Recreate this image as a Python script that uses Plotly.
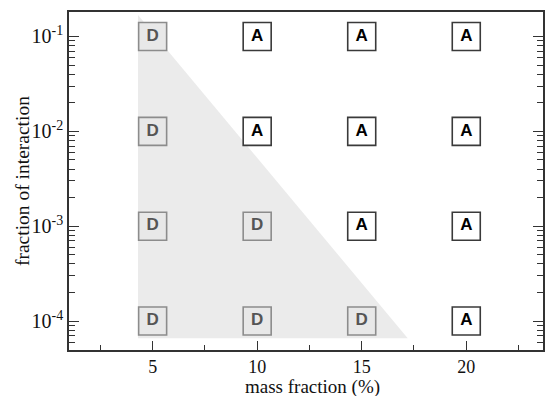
import plotly.graph_objects as go

# Grid of simulated cases: mass fraction (%) vs fraction of interaction
mass_fraction = [5, 10, 15, 20]
interaction = [1e-1, 1e-2, 1e-3, 1e-4]
# Outcome per row (interaction) and column (mass fraction)
regime = [
    ["D", "A", "A", "A"],
    ["D", "A", "A", "A"],
    ["D", "D", "A", "A"],
    ["D", "D", "D", "A"],
]

# Shaded "D" region (triangle vertices)
shade_x = [4.3, 4.3, 17.2]
shade_y = [0.168, 6.6e-5, 6.6e-5]

x_tick_vals = [5, 10, 15, 20]
x_tick_text = ["5", "10", "15", "20"]
y_tick_vals = [1e-4, 1e-3, 1e-2, 1e-1]
y_tick_text = ["10<sup>-4</sup>", "10<sup>-3</sup>", "10<sup>-2</sup>", "10<sup>-1</sup>"]

SERIF = "Liberation Serif"
SANS = "Liberation Sans"

fig = go.Figure()

fig.add_trace(go.Scatter(
    x=shade_x, y=shade_y, mode="lines", fill="toself",
    fillcolor="#ebebeb", line=dict(width=0), hoverinfo="skip", showlegend=False,
))

for kind, fill, edge, txt in [("D", "#e8e8e8", "#8c8c8c", "#555555"),
                              ("A", "#ffffff", "#3a3a3a", "#000000")]:
    xs, ys = [], []
    for i, yv in enumerate(interaction):
        for j, xv in enumerate(mass_fraction):
            if regime[i][j] == kind:
                xs.append(xv)
                ys.append(yv)
    fig.add_trace(go.Scatter(
        x=xs, y=ys, mode="markers+text", text=["<b>%s</b>" % kind] * len(xs),
        textposition="middle center",
        textfont=dict(family=SANS, size=17, color=txt),
        marker=dict(symbol="square", size=28, color=fill,
                    line=dict(color=edge, width=1.6)),
        showlegend=False, hoverinfo="skip",
    ))

minor_y = [m * 10.0 ** k for k in range(-5, 0) for m in range(2, 10)]

fig.update_layout(
    width=545, height=396,
    margin=dict(l=69, r=0, t=12, b=46),
    paper_bgcolor="white", plot_bgcolor="white",
    font=dict(family=SERIF, color="#111111"),
    xaxis=dict(
        range=[1, 23.67], tickmode="array", tickvals=x_tick_vals, ticktext=x_tick_text,
        ticks="inside", ticklen=9, tickwidth=1.2, tickcolor="#333",
        showline=True, linecolor="#333", linewidth=1.6, mirror=True,
        showgrid=False, zeroline=False,
        tickfont=dict(family=SERIF, size=18, color="#111"),
        minor=dict(tickmode="array", tickvals=[2.5, 7.5, 12.5, 17.5, 22.5],
                   ticks="inside", ticklen=5, tickwidth=1.2, tickcolor="#333", showgrid=False),
    ),
    yaxis=dict(
        type="log", range=[-4.305, -0.742], tickmode="array",
        tickvals=y_tick_vals, ticktext=y_tick_text,
        ticks="inside", ticklen=10, tickwidth=1.2, tickcolor="#333",
        showline=True, linecolor="#333", linewidth=1.6, mirror="ticks",
        showgrid=False, zeroline=False,
        tickfont=dict(family=SERIF, size=20, color="#111"),
        minor=dict(tickmode="array", tickvals=minor_y,
                   ticks="inside", ticklen=6, tickwidth=1.2, tickcolor="#333", showgrid=False),
    ),
    annotations=[
        dict(text="mass fraction (%)", xref="paper", yref="paper", x=0.513, y=-0.108,
             xanchor="center", yanchor="middle", showarrow=False,
             font=dict(family=SERIF, size=19, color="#111")),
        dict(text="fraction of interaction", xref="paper", yref="paper", x=-0.099, y=0.5,
             xanchor="center", yanchor="middle", textangle=-90, showarrow=False,
             font=dict(family=SERIF, size=19.5, color="#111")),
    ],
)

fig.write_html("out.html")
